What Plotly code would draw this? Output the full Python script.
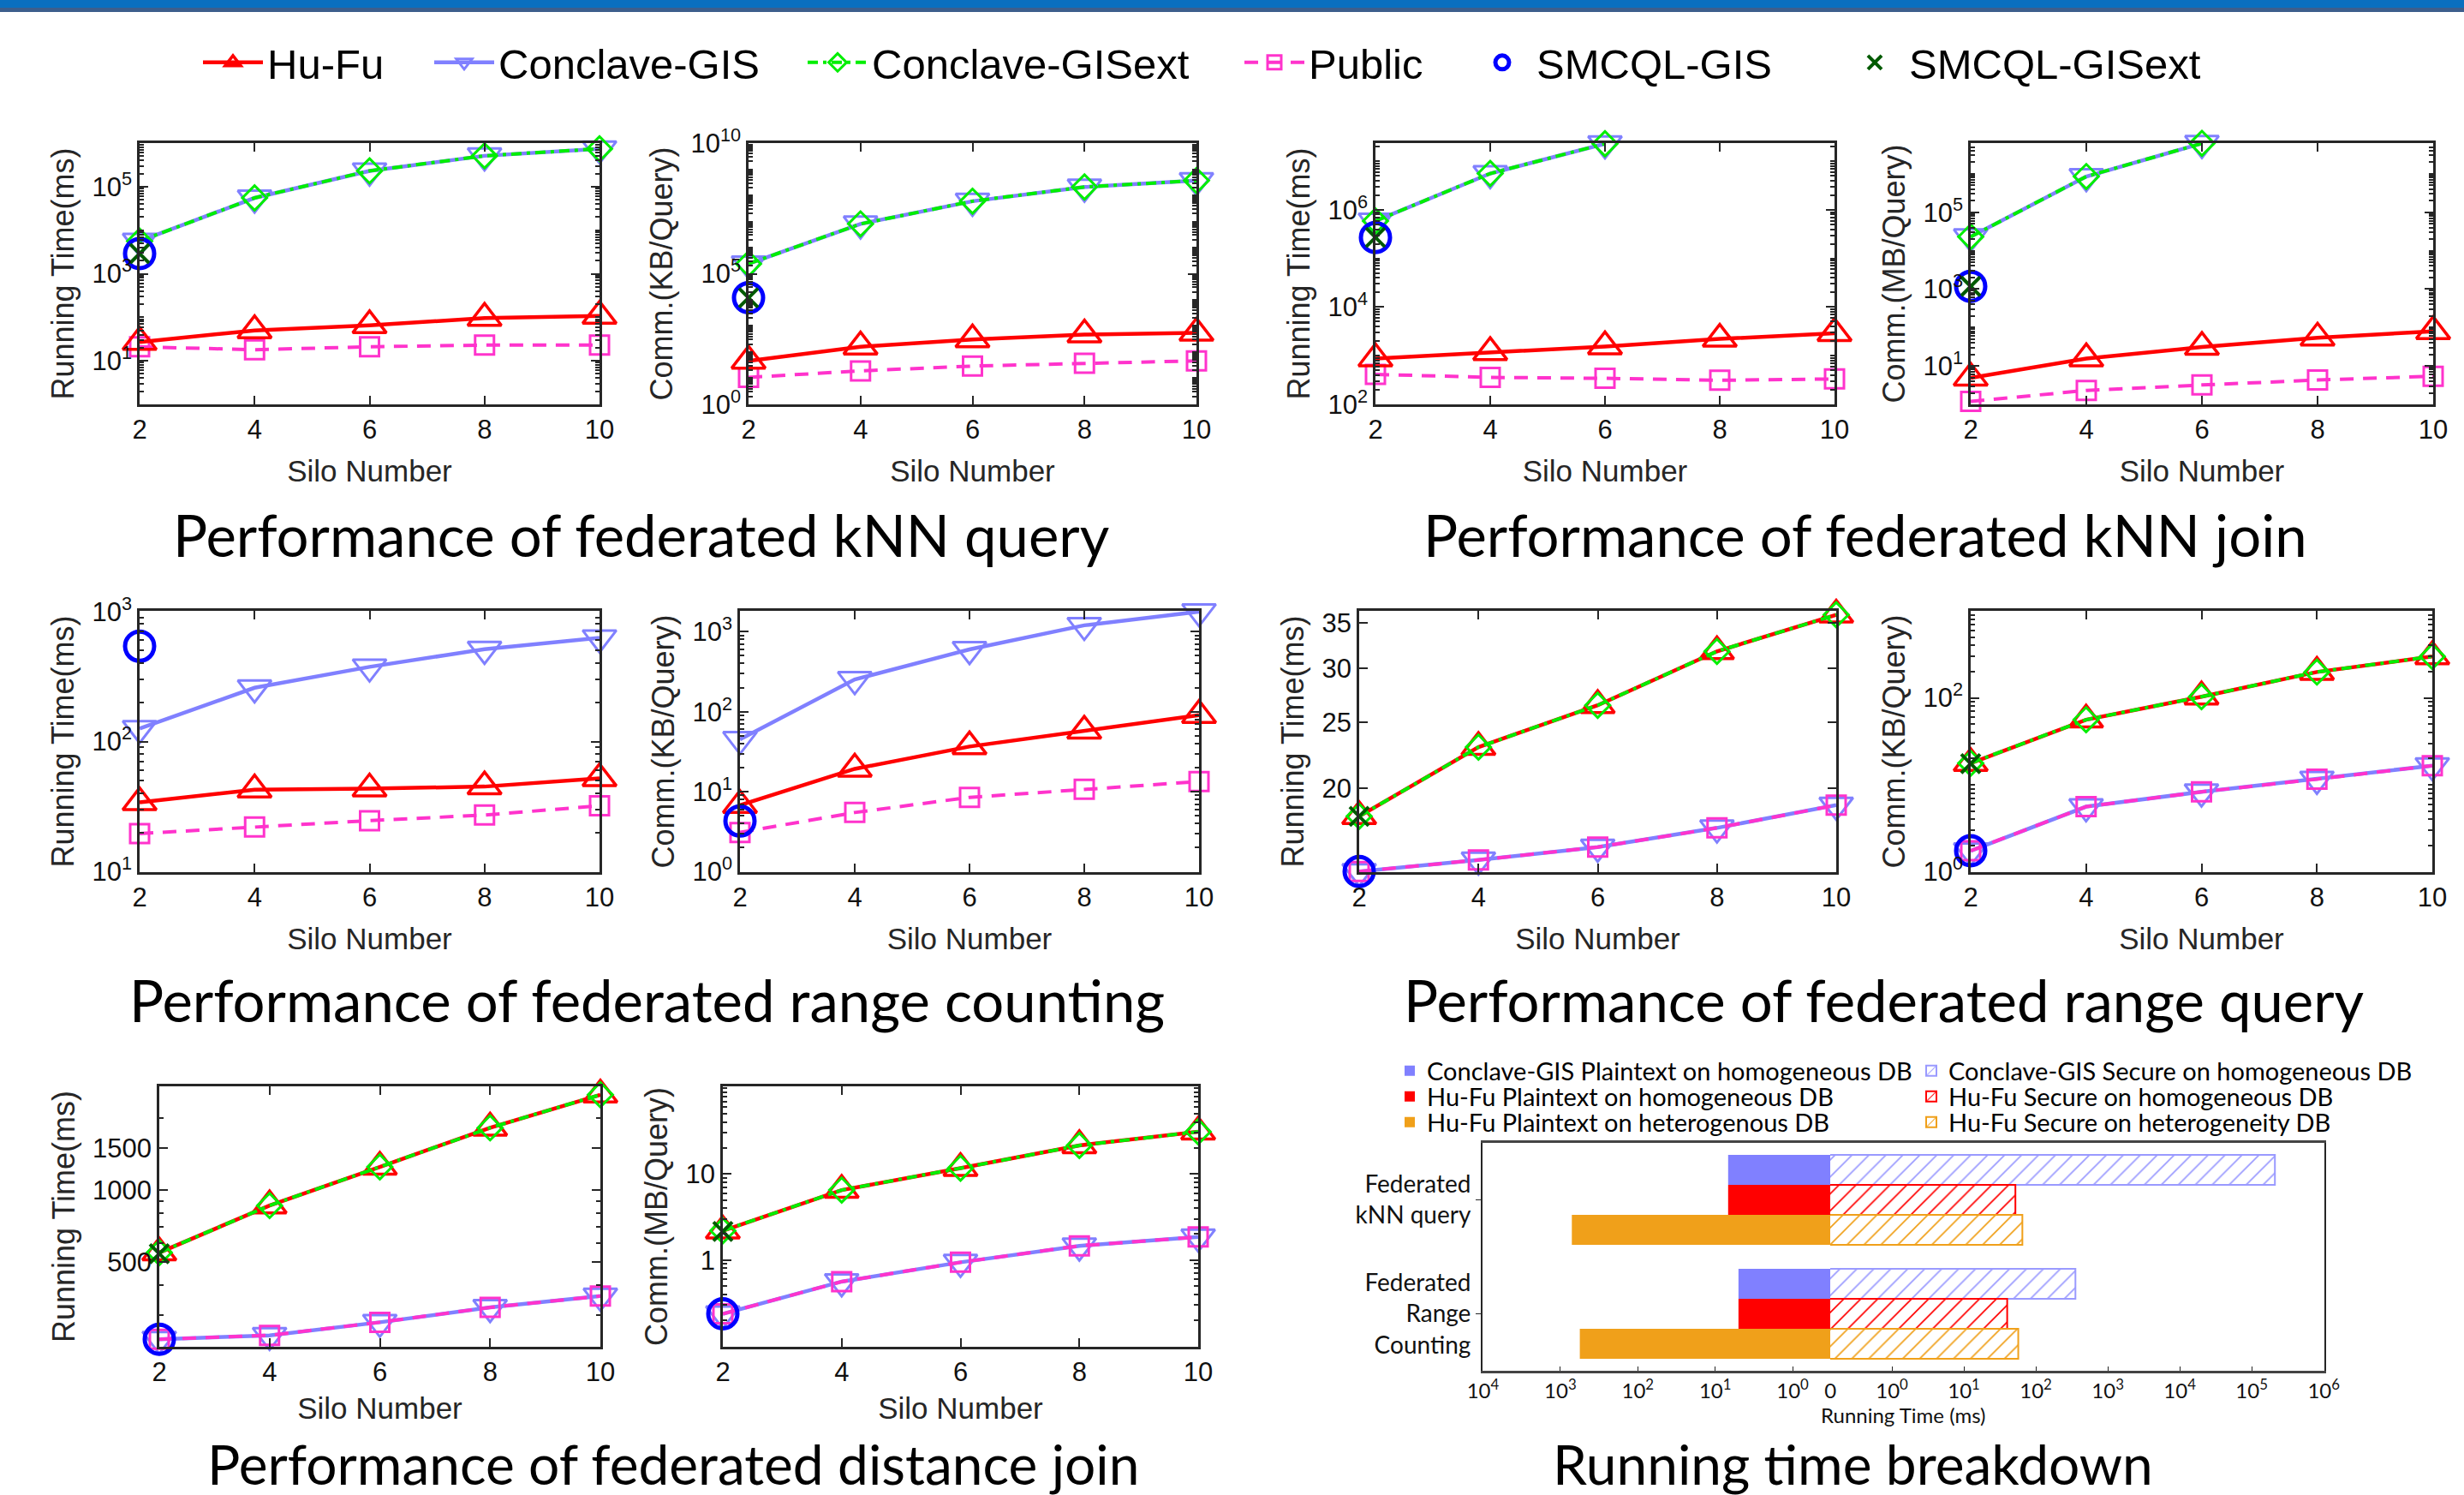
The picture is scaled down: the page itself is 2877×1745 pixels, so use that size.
import plotly.graph_objects as go

W, H = 2877, 1745

# ---------------- data ----------------
silo = [2, 4, 6, 8, 10]
silo_3 = [2, 4, 6]
silo_1 = [2]

# kNN query
knnq_time_hufu = [27, 50, 65, 96, 107]
knnq_time_conclave = [5600, 55000, 230000, 510000, 740000]
knnq_time_conclave_ext = [5600, 55000, 230000, 510000, 740000]
knnq_time_public = [21, 18, 21, 23, 23]
knnq_time_smcql = [2900]
knnq_time_smcql_ext = [2900]

knnq_comm_hufu = [46, 160, 300, 465, 540]
knnq_comm_conclave = [2.4e5, 8.1e6, 6e7, 2.1e8, 3.7e8]
knnq_comm_conclave_ext = [2.4e5, 8.1e6, 6e7, 2.1e8, 3.7e8]
knnq_comm_public = [10.7, 19, 29, 37, 46]
knnq_comm_smcql = [1.2e4]
knnq_comm_smcql_ext = [1.2e4]

# kNN join
knnj_time_hufu = [870, 1170, 1540, 2200, 2890]
knnj_time_conclave = [5.9e5, 5.6e6, 2.3e7]
knnj_time_conclave_ext = [5.9e5, 5.6e6, 2.3e7]
knnj_time_public = [410, 355, 340, 310, 330]
knnj_time_smcql = [2.7e5]
knnj_time_smcql_ext = [2.7e5]

knnj_comm_hufu = [4.9, 15.6, 31, 54, 80]
knnj_comm_conclave = [2.3e4, 8.5e5, 6.2e6]
knnj_comm_conclave_ext = [2.3e4, 8.5e5, 6.2e6]
knnj_comm_public = [1.2, 2.3, 3.2, 4.3, 5.4]
knnj_comm_smcql = [1180]
knnj_comm_smcql_ext = [1180]

# range counting
rc_time_hufu = [34, 42.6, 43.4, 45, 52]
rc_time_conclave = [126, 259, 375, 513, 628]
rc_time_public = [19.6, 22, 24.6, 27.2, 32]
rc_time_smcql = [540]

rc_comm_hufu = [6.8, 19.3, 36.7, 57.6, 90.6]
rc_comm_conclave = [45, 253, 600, 1200, 1780]
rc_comm_public = [3.1, 5.5, 8.5, 10.7, 13.4]
rc_comm_smcql = [4.3]

# range query
rq_time_hufu = [18.2, 23.0, 26.5, 31.8, 36.0]
rq_time_conclave = [15.1, 15.7, 16.4, 17.5, 18.9]
rq_time_conclave_ext = [18.2, 23.0, 26.5, 31.8, 36.0]
rq_time_public = [15.1, 15.7, 16.4, 17.5, 18.9]
rq_time_smcql = [15.1]
rq_time_smcql_ext = [18.2]

rq_comm_hufu = [17.7, 56, 103, 198, 299]
rq_comm_conclave = [1.74, 5.6, 8.3, 11.6, 16.6]
rq_comm_conclave_ext = [17.7, 56, 103, 198, 299]
rq_comm_public = [1.74, 5.6, 8.3, 11.6, 16.6]
rq_comm_smcql = [1.74]
rq_comm_smcql_ext = [17.5]

# distance join
dj_time_hufu = [546, 859, 1247, 1817, 2500]
dj_time_conclave = [237, 246, 279, 322, 359]
dj_time_conclave_ext = [546, 859, 1247, 1817, 2500]
dj_time_public = [237, 246, 279, 322, 359]
dj_time_smcql = [237]
dj_time_smcql_ext = [540]

dj_comm_hufu = [2.19, 6.5, 11.7, 21.5, 31]
dj_comm_conclave = [0.236, 0.56, 0.94, 1.46, 1.85]
dj_comm_conclave_ext = [2.19, 6.5, 11.7, 21.5, 31]
dj_comm_public = [0.236, 0.56, 0.94, 1.46, 1.85]
dj_comm_smcql = [0.236]
dj_comm_smcql_ext = [2.15]

# running time breakdown (ms)
bd_categories = ["Federated<br>kNN query", "Federated<br>Range<br>Counting"]
bd_conclave_plain = [6.8, 5.0]
bd_hufu_plain_homo = [6.8, 5.0]
bd_hufu_plain_hetero = [710, 560]
bd_conclave_secure = [2.1e5, 355]
bd_hufu_secure_homo = [52, 40]
bd_hufu_secure_hetero = [65, 57]

# ---------------- styles ----------------
MFONT = "Liberation Sans, Arial, sans-serif"
CFONT = "Lato, Carlito, Calibri, sans-serif"
INK = "#262626"

STYLE = {
    "Hu-Fu": dict(mode="lines+markers", line=dict(color="#FF0000", width=4.5),
                  marker=dict(symbol="triangle-up-open", size=34, color="#FF0000", line=dict(width=3.5))),
    "Conclave-GIS": dict(mode="lines+markers", line=dict(color="#8080FF", width=4.5),
                         marker=dict(symbol="triangle-down-open", size=34, color="#8080FF", line=dict(width=3))),
    "Conclave-GISext": dict(mode="lines+markers", line=dict(color="#00EE00", width=4, dash="12px,6px,4px,6px"),
                            marker=dict(symbol="diamond-open", size=22, color="#00EE00", line=dict(width=3))),
    "Public": dict(mode="lines+markers", line=dict(color="#FF33CC", width=4, dash="16px,11px"),
                   marker=dict(symbol="square-open", size=22, color="#FF33CC", line=dict(width=3))),
    "SMCQL-GIS": dict(mode="markers",
                      marker=dict(symbol="circle-open", size=34, color="#0000FF", line=dict(width=5))),
    "SMCQL-GISext": dict(mode="markers",
                         marker=dict(symbol="x-thin-open", size=22, color="#005A00", line=dict(width=4, color="#005A00"))),
}
# one legend per entry of the top legend, so each entry sits where the reference has it
LEG_ID = {"Hu-Fu": "legend", "Conclave-GIS": "legend2", "Conclave-GISext": "legend3", "Public": "legend4",
          "SMCQL-GIS": "legend5", "SMCQL-GISext": "legend6"}
LEG_TEXT_X = {"legend": 312, "legend2": 582, "legend3": 1018, "legend4": 1528, "legend5": 1794, "legend6": 2229}

fig = go.Figure()
layout_axes = {}


def sup(e):
    return "10<sup>%d</sup>" % e


def add_panel(k, xpx, ypx, yrange, tickvals, ticktext, ytitle, series, legend=False, xstandoff=20):
    xa = "x" if k == 1 else "x%d" % k
    ya = "y" if k == 1 else "y%d" % k
    xkey = "xaxis" if k == 1 else "xaxis%d" % k
    ykey = "yaxis" if k == 1 else "yaxis%d" % k
    common = dict(showline=True, linecolor=INK, linewidth=2.5, mirror="ticks", ticks="inside",
                  ticklen=10, tickwidth=2, tickcolor=INK, showgrid=False, zeroline=False, automargin=False,
                  tickfont=dict(family=MFONT, size=31, color="#111"))
    layout_axes[xkey] = dict(common, domain=[xpx[0] / W, xpx[1] / W], anchor=ya, range=[2, 10],
                             tickvals=silo, ticktext=[str(v) for v in silo],
                             title=dict(text="Silo Number", font=dict(family=MFONT, size=35, color=INK),
                                        standoff=xstandoff))
    layout_axes[ykey] = dict(common, domain=[1 - ypx[1] / H, 1 - ypx[0] / H], anchor=xa, type="log",
                             range=yrange, tickvals=tickvals, ticktext=ticktext,
                             minor=dict(ticks="inside", ticklen=5, tickcolor=INK, dtick="D1"),
                             title=dict(text=ytitle, font=dict(family=MFONT, size=36, color=INK), standoff=10))
    for name, xs, ys in series:
        st = STYLE[name]
        fig.add_trace(go.Scatter(x=xs, y=ys, name=name, xaxis=xa, yaxis=ya, cliponaxis=False,
                                 legendgroup=name, showlegend=legend, legend=LEG_ID[name],
                                 hoverinfo="skip", **st))


# row 1
add_panel(1, (163, 700), (167, 472), [0, 6.0], [10, 1e3, 1e5], [sup(1), sup(3), sup(5)], "Running Time(ms)",
          [("Public", silo, knnq_time_public), ("Hu-Fu", silo, knnq_time_hufu),
           ("Conclave-GIS", silo, knnq_time_conclave), ("Conclave-GISext", silo, knnq_time_conclave_ext),
           ("SMCQL-GIS", silo_1, knnq_time_smcql), ("SMCQL-GISext", silo_1, knnq_time_smcql_ext)], legend=True)
add_panel(2, (874, 1397), (167, 472), [-0.005, 10.005], [1, 1e5, 1e10], [sup(0), sup(5), sup(10)], "Comm.(KB/Query)",
          [("Public", silo, knnq_comm_public), ("Hu-Fu", silo, knnq_comm_hufu),
           ("Conclave-GIS", silo, knnq_comm_conclave), ("Conclave-GISext", silo, knnq_comm_conclave_ext),
           ("SMCQL-GIS", silo_1, knnq_comm_smcql), ("SMCQL-GISext", silo_1, knnq_comm_smcql_ext)])
add_panel(3, (1606, 2142), (167, 472), [1.995, 7.375], [1e2, 1e4, 1e6], [sup(2), sup(4), sup(6)], "Running Time(ms)",
          [("Public", silo, knnj_time_public), ("Hu-Fu", silo, knnj_time_hufu),
           ("Conclave-GIS", silo_3, knnj_time_conclave), ("Conclave-GISext", silo_3, knnj_time_conclave_ext),
           ("SMCQL-GIS", silo_1, knnj_time_smcql), ("SMCQL-GISext", silo_1, knnj_time_smcql_ext)])
add_panel(4, (2301, 2841), (167, 472), [0, 6.8], [10, 1e3, 1e5], [sup(1), sup(3), sup(5)], "Comm.(MB/Query)",
          [("Public", silo, knnj_comm_public), ("Hu-Fu", silo, knnj_comm_hufu),
           ("Conclave-GIS", silo_3, knnj_comm_conclave), ("Conclave-GISext", silo_3, knnj_comm_conclave_ext),
           ("SMCQL-GIS", silo_1, knnj_comm_smcql), ("SMCQL-GISext", silo_1, knnj_comm_smcql_ext)])
# row 2
add_panel(5, (163, 700), (713, 1018), [0.995, 3.005], [10, 100, 1000], [sup(1), sup(2), sup(3)], "Running Time(ms)",
          [("Public", silo, rc_time_public), ("Hu-Fu", silo, rc_time_hufu),
           ("Conclave-GIS", silo, rc_time_conclave), ("SMCQL-GIS", silo_1, rc_time_smcql)])
add_panel(6, (864, 1400), (713, 1018), [-0.005, 3.26], [1, 10, 100, 1000], [sup(0), sup(1), sup(2), sup(3)],
          "Comm.(KB/Query)",
          [("Public", silo, rc_comm_public), ("Hu-Fu", silo, rc_comm_hufu),
           ("Conclave-GIS", silo, rc_comm_conclave), ("SMCQL-GIS", silo_1, rc_comm_smcql)])
add_panel(7, (1587, 2144), (713, 1018), [1.178, 1.562], [20, 25, 30, 35], ["20", "25", "30", "35"], "Running Time(ms)",
          [("Conclave-GIS", silo, rq_time_conclave), ("Public", silo, rq_time_public),
           ("Hu-Fu", silo, rq_time_hufu), ("Conclave-GISext", silo, rq_time_conclave_ext),
           ("SMCQL-GIS", silo_1, rq_time_smcql), ("SMCQL-GISext", silo_1, rq_time_smcql_ext)])
add_panel(8, (2301, 2840), (713, 1018), [-0.005, 3.0], [1, 100], [sup(0), sup(2)], "Comm.(KB/Query)",
          [("Conclave-GIS", silo, rq_comm_conclave), ("Public", silo, rq_comm_public),
           ("Hu-Fu", silo, rq_comm_hufu), ("Conclave-GISext", silo, rq_comm_conclave_ext),
           ("SMCQL-GIS", silo_1, rq_comm_smcql), ("SMCQL-GISext", silo_1, rq_comm_smcql_ext)])
# row 3
add_panel(9, (186, 701), (1268, 1572), [2.343, 3.433], [500, 1000, 1500], ["500", "1000", "1500"], "Running Time(ms)",
          [("Conclave-GIS", silo, dj_time_conclave), ("Public", silo, dj_time_public),
           ("Hu-Fu", silo, dj_time_hufu), ("Conclave-GISext", silo, dj_time_conclave_ext),
           ("SMCQL-GIS", silo_1, dj_time_smcql), ("SMCQL-GISext", silo_1, dj_time_smcql_ext)], xstandoff=14)
add_panel(10, (844, 1399), (1268, 1572), [-1.01, 2.02], [1, 10], ["1", "10"], "Comm.(MB/Query)",
          [("Conclave-GIS", silo, dj_comm_conclave), ("Public", silo, dj_comm_public),
           ("Hu-Fu", silo, dj_comm_hufu), ("Conclave-GISext", silo, dj_comm_conclave_ext),
           ("SMCQL-GIS", silo_1, dj_comm_smcql), ("SMCQL-GISext", silo_1, dj_comm_smcql_ext)], xstandoff=14)

# ---------------- breakdown ----------------
BD_Y = (1334, 1600)
BD_L = (1731, 2137)
BD_R = (2137, 2714)
bd_xtick = dict(family=CFONT, size=24, color="#111")
bd_ytick = dict(family=CFONT, size=28, color="#111")
bd_common = dict(ticks="inside", ticklen=5, tickcolor=INK, showline=True, linecolor="#444", linewidth=3,
                 mirror=True, showgrid=False, zeroline=False, automargin=False, tickfont=bd_xtick, type="log")
layout_axes["xaxis11"] = dict(bd_common, domain=[BD_L[0] / W, BD_L[1] / W], anchor="y11", range=[4.005, -0.486],
                              tickvals=[1e4, 1e3, 1e2, 10, 1], ticktext=[sup(4), sup(3), sup(2), sup(1), sup(0)])
layout_axes["xaxis12"] = dict(bd_common, domain=[BD_R[0] / W, BD_R[1] / W], anchor="y12", range=[-0.857, 6.01],
                              tickvals=[0.14, 1, 10, 1e2, 1e3, 1e4, 1e5, 1e6],
                              ticktext=["0"] + [sup(i) for i in range(7)])
layout_axes["yaxis11"] = dict(domain=[1 - BD_Y[1] / H, 1 - BD_Y[0] / H], anchor="x11", type="category",
                              categoryorder="array", categoryarray=bd_categories, autorange="reversed",
                              ticks="outside", ticklen=6, tickcolor=INK, showline=True, linecolor=INK,
                              linewidth=2, showgrid=False, zeroline=False, automargin=False, tickfont=bd_ytick)
layout_axes["yaxis12"] = dict(domain=[1 - BD_Y[1] / H, 1 - BD_Y[0] / H], anchor="x12", matches="y11",
                              type="category", side="right", showticklabels=False, ticks="", automargin=False,
                              showline=True, linecolor=INK, linewidth=2, showgrid=False, zeroline=False)

C_CONC = "#8080FF"
C_RED = "#FF0000"
C_ORG = "#F0A01A"

plain = [("Conclave-GIS Plaintext on homogeneous DB", bd_conclave_plain, C_CONC),
         ("Hu-Fu Plaintext on homogeneous DB", bd_hufu_plain_homo, C_RED),
         ("Hu-Fu Plaintext on heterogenous DB", bd_hufu_plain_hetero, C_ORG)]
secure = [("Conclave-GIS Secure on homogeneous DB", bd_conclave_secure, "#9A9AFF"),
          ("Hu-Fu Secure on homogeneous DB", bd_hufu_secure_homo, C_RED),
          ("Hu-Fu Secure on heterogeneity DB", bd_hufu_secure_hetero, C_ORG)]
bd_legends = {}
BD_ROWS = [1250, 1280, 1310]
for i, (name, vals, col) in enumerate(plain):
    lid = "legend%d" % (7 + i)
    bd_legends[lid] = (1626, BD_ROWS[i])
    fig.add_trace(go.Bar(y=bd_categories, x=vals, base=0.001, orientation="h", name=name,
                         xaxis="x11", yaxis="y11", legend=lid, hoverinfo="skip",
                         marker=dict(color=col, line=dict(width=0))))
for i, (name, vals, col) in enumerate(secure):
    lid = "legend%d" % (10 + i)
    bd_legends[lid] = (2235, BD_ROWS[i])
    fig.add_trace(go.Bar(y=bd_categories, x=vals, base=0.001, orientation="h", name=name,
                         xaxis="x12", yaxis="y12", legend=lid, hoverinfo="skip",
                         marker=dict(color="white", line=dict(width=2, color=col),
                                     pattern=dict(shape="/", fgcolor=col, bgcolor="white", size=14,
                                                  solidity=0.12))))

# ---------------- legends ----------------
legends = {}
for lid, tx in LEG_TEXT_X.items():
    legends[lid] = dict(orientation="v", x=(tx - 80) / W, xanchor="left", y=1 - 73 / H, yanchor="middle",
                        font=dict(family=MFONT, size=49, color="black"), itemwidth=70,
                        bgcolor="rgba(0,0,0,0)", borderwidth=0)
for lid, (lx, ly) in bd_legends.items():
    legends[lid] = dict(orientation="v", x=lx / W, xanchor="left", y=1 - ly / H, yanchor="middle",
                        font=dict(family=CFONT, size=29, color="black"), bgcolor="rgba(0,0,0,0)",
                        borderwidth=0)

# ---------------- annotations ----------------
TITLE_FONT = dict(family=CFONT, size=67, color="black")
BOTTOM_TITLE_FONT = dict(family=CFONT, size=64, color="black")
annots = []
for text, cx, cy, fnt in [("Performance of federated kNN query", 748, 624, TITLE_FONT),
                          ("Performance of federated kNN join", 2178, 624, TITLE_FONT),
                          ("Performance of federated range counting", 755, 1167, TITLE_FONT),
                          ("Performance of federated range query", 2199, 1167, TITLE_FONT),
                          ("Performance of federated distance join", 786, 1708, BOTTOM_TITLE_FONT),
                          ("Running time breakdown", 2163, 1708, BOTTOM_TITLE_FONT)]:
    annots.append(dict(text=text, x=cx / W, y=1 - cy / H, xref="paper", yref="paper",
                       xanchor="center", yanchor="middle", showarrow=False, font=fnt))
annots.append(dict(text="Running Time (ms)", x=2222 / W, y=1 - 1651 / H, xref="paper", yref="paper",
                   xanchor="center", yanchor="middle", showarrow=False,
                   font=dict(family=CFONT, size=24, color="#111")))

shapes = [
    dict(type="rect", xref="paper", yref="paper", x0=0, x1=1, y0=1 - 9 / H, y1=1,
         fillcolor="#0A6FBF", line=dict(width=0), layer="above"),
    dict(type="rect", xref="paper", yref="paper", x0=0, x1=1, y0=1 - 14 / H, y1=1 - 9 / H,
         fillcolor="#3D5E8C", line=dict(width=0), layer="above"),
]

fig.update_layout(
    template="none",
    width=W, height=H, autosize=False,
    margin=dict(l=0, r=0, t=0, b=0, autoexpand=False),
    paper_bgcolor="white", plot_bgcolor="white",
    font=dict(family=MFONT, color=INK),
    barmode="group", bargap=0.21, bargroupgap=0,
    showlegend=True,
    annotations=annots,
    shapes=shapes,
    **legends,
    **layout_axes,
)

fig.write_html("out.html", config={"displayModeBar": False},
               post_script="document.body.style.margin='0';document.body.style.overflow='hidden';")
